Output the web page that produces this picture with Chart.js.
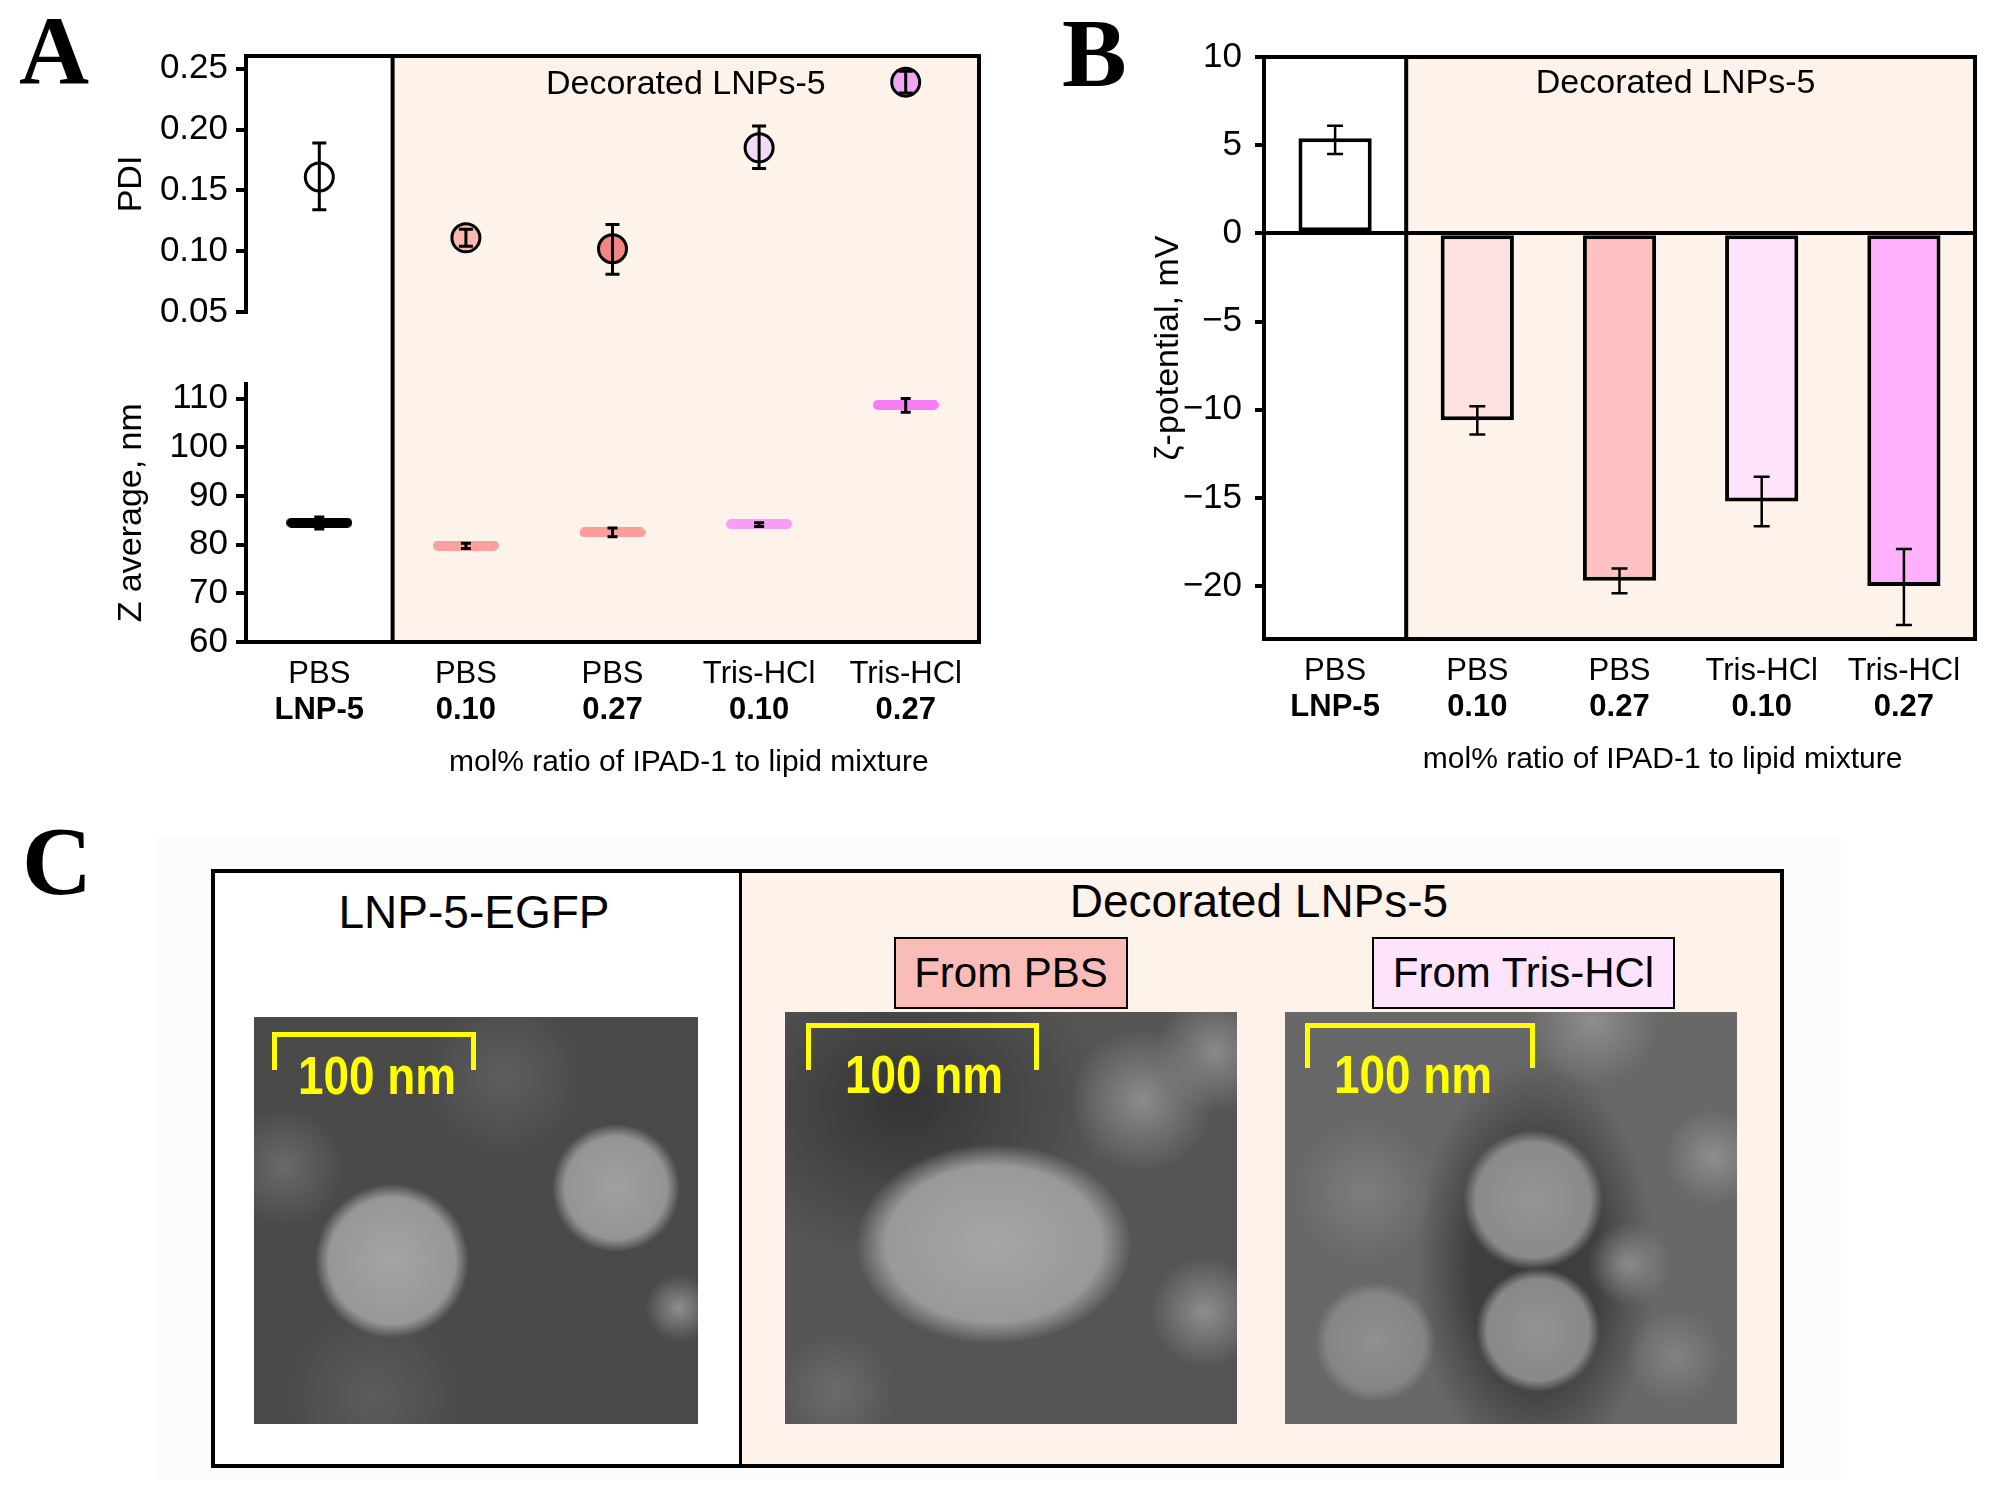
<!DOCTYPE html>
<html lang="en">
<head>
  <meta charset="UTF-8">
  <title>LNP-5 size, PDI and zeta potential</title>
  <script src="https://cdn.jsdelivr.net/npm/chart.js"></script>
  <style>
    body {
      margin: 0;
      width: 2009px;
      height: 1493px;
      position: relative;
      overflow: hidden;
      background: #fff;
      font-family: 'Liberation Sans', Arial, sans-serif;
    }
    .abs { position: absolute; }
    .letter {
      position: absolute;
      font-family: 'Liberation Serif', 'Times New Roman', serif;
      font-weight: bold;
      font-size: 97px;
      line-height: 97px;
      color: #000;
    }
    .ctext {
      position: absolute;
      transform: translate(-50%, -50%);
      white-space: nowrap;
      line-height: 1;
      color: #000;
    }
    .tag {
      position: absolute;
      box-sizing: border-box;
      border: 2px solid #000;
      display: flex;
      align-items: center;
      justify-content: center;
      font-size: 42px;
      line-height: 1;
    }
    .tem { position: absolute; overflow: hidden; }
    .bracket {
      position: absolute;
      box-sizing: border-box;
      border: 5px solid #ffff00;
      border-bottom: none;
    }
    .scale {
      position: absolute;
      transform: translate(-50%, -50%) scaleX(0.85);
      font-weight: bold;
      font-size: 54px;
      line-height: 1;
      color: #ffff00;
      white-space: nowrap;
    }
  </style>
</head>
<body>
  <div class="letter" style="left:19px; top:2px;">A</div>
  <div class="letter" style="left:1062px; top:5px;">B</div>

  <canvas id="chartA" class="abs" width="1000" height="780" style="left:0; top:0; width:1000px; height:780px;"></canvas>
  <canvas id="chartB" class="abs" width="1009" height="780" style="left:1000px; top:0; width:1009px; height:780px;"></canvas>

  <!-- panel C: micrographs, approximated -->
  <div class="abs" style="left:156px; top:837px; width:1685px; height:642px; background:#fcfcfc;"></div>
  <div class="letter" style="left:22px; top:813px;">C</div>
  <div class="abs" style="left:213px; top:871px; width:528px; height:595px; background:#fff;"></div>
  <div class="abs" style="left:741px; top:871px; width:1041px; height:595px; background:#fdf3ea;"></div>
  <div class="abs" style="left:211px; top:869px; width:1573px; height:599px; border:4px solid #000; box-sizing:border-box;"></div>
  <div class="abs" style="left:739px; top:871px; width:3px; height:595px; background:#000;"></div>

  <div class="ctext" style="left:474px; top:912px; font-size:46px;">LNP-5-EGFP</div>
  <div class="ctext" style="left:1259px; top:901px; font-size:46px;">Decorated LNPs-5</div>
  <div class="tag" style="left:894px; top:937px; width:234px; height:72px; background:#f9bcb8;">From PBS</div>
  <div class="tag" style="left:1372px; top:937px; width:303px; height:72px; background:#fde3fb;">From Tris-HCl</div>

  <div class="tem" style="left:254px; top:1017px; width:444px; height:407px;
    background:
      radial-gradient(circle 77px at 138px 244px, #a4a4a4 0, #979797 82%, rgba(80,80,80,0) 100%),
      radial-gradient(circle 64px at 362px 171px, #a0a0a0 0, #949494 80%, rgba(80,80,80,0) 100%),
      radial-gradient(circle 34px at 425px 291px, #8e8e8e 0, rgba(80,80,80,0) 100%),
      radial-gradient(circle 60px at 30px 150px, #6a6a6a 0, rgba(80,80,80,0) 100%),
      radial-gradient(circle 80px at 250px 60px, #5e5e5e 0, rgba(80,80,80,0) 100%),
      radial-gradient(circle 90px at 120px 380px, #5c5c5c 0, rgba(80,80,80,0) 100%),
      #4a4a4a;"></div>
  <div class="tem" style="left:785px; top:1012px; width:452px; height:412px;
    background:
      radial-gradient(ellipse 138px 100px at 209px 232px, #a6a6a6 0, #999 78%, rgba(70,70,70,0) 100%),
      radial-gradient(circle 72px at 357px 88px, #8c8c8c 0, rgba(70,70,70,0) 100%),
      radial-gradient(circle 60px at 430px 40px, #8a8a8a 0, rgba(70,70,70,0) 100%),
      radial-gradient(circle 55px at 420px 300px, #8e8e8e 0, rgba(70,70,70,0) 100%),
      radial-gradient(circle 60px at 50px 380px, #6c6c6c 0, rgba(70,70,70,0) 100%),
      radial-gradient(ellipse 200px 160px at 120px 90px, #343434 0, rgba(60,60,60,0) 100%),
      #555;"></div>
  <div class="tem" style="left:1285px; top:1012px; width:452px; height:412px;
    background:
      radial-gradient(circle 70px at 248px 188px, #959595 0, #8a8a8a 82%, rgba(60,60,60,0) 100%),
      radial-gradient(circle 62px at 253px 318px, #939393 0, #888 82%, rgba(60,60,60,0) 100%),
      radial-gradient(circle 60px at 90px 330px, #909090 0, #858585 80%, rgba(60,60,60,0) 100%),
      radial-gradient(circle 42px at 344px 252px, #8c8c8c 0, rgba(60,60,60,0) 100%),
      radial-gradient(circle 48px at 428px 145px, #8e8e8e 0, rgba(60,60,60,0) 100%),
      radial-gradient(circle 66px at 308px 8px, #8e8e8e 0, rgba(60,60,60,0) 100%),
      radial-gradient(circle 70px at 80px 180px, #7e7e7e 0, rgba(60,60,60,0) 100%),
      radial-gradient(circle 48px at 390px 345px, #828282 0, rgba(60,60,60,0) 100%),
      radial-gradient(ellipse 120px 210px at 250px 255px, #3a3a3a 0, #404040 55%, rgba(90,90,90,0) 100%),
      #686868;"></div>

  <div class="bracket" style="left:272px; top:1032px; width:204px; height:38px;"></div>
  <div class="scale" style="left:377px; top:1075px;">100 nm</div>
  <div class="bracket" style="left:806px; top:1023px; width:233px; height:47px;"></div>
  <div class="scale" style="left:924px; top:1074px;">100 nm</div>
  <div class="bracket" style="left:1305px; top:1023px; width:230px; height:45px;"></div>
  <div class="scale" style="left:1413px; top:1074px;">100 nm</div>

  <script>
    // categories (two label lines under each column)
    const groups = ['PBS', 'PBS', 'PBS', 'Tris-HCl', 'Tris-HCl'];
    const ratios = ['LNP-5', '0.10', '0.27', '0.10', '0.27'];

    // panel A, PDI
    const pdi = [0.161, 0.111, 0.102, 0.185, 0.239];
    const pdiLow = [0.134, 0.104, 0.081, 0.168, 0.230];
    const pdiHigh = [0.189, 0.118, 0.122, 0.203, 0.248];
    const pdiTicks = [0.05, 0.10, 0.15, 0.20, 0.25];

    // panel A, Z average (nm)
    const zAvg = [84.5, 79.8, 82.5, 84.2, 108.7];
    const zLow = [83.2, 79.2, 81.6, 83.7, 107.2];
    const zHigh = [85.7, 80.3, 83.4, 84.5, 110.0];
    const zTicks = [60, 70, 80, 90, 100, 110];

    // panel B, zeta potential (mV)
    const zeta = [5.4, -10.6, -19.7, -15.2, -20.0];
    const zetaLow = [4.5, -11.4, -20.4, -16.6, -22.2];
    const zetaHigh = [6.1, -9.8, -19.0, -13.8, -17.9];
    const zetaTicks = [-20, -15, -10, -5, 0, 5, 10];

    const pdiColors = ['#ffffff', '#f7b9b1', '#f28686', '#f3daf6', '#f0a6f0'];
    const zColors = ['#000000', '#fc9f9f', '#fc9c9c', '#f99cf7', '#f77ef7'];
    const zetaColors = ['#ffffff', '#ffe1e1', '#ffc1c1', '#ffe3fb', '#ffb1fb'];

    const FONT = "'Liberation Sans', Arial, sans-serif";
    Chart.defaults.font.family = FONT;
    Chart.defaults.color = '#000';

    // horizontal rounded bar used as the Z average marker
    function markerBar(color) {
      const c = document.createElement('canvas');
      c.width = 66;
      c.height = 10;
      const g = c.getContext('2d');
      g.strokeStyle = color;
      g.lineWidth = 10;
      g.lineCap = 'round';
      g.beginPath();
      g.moveTo(5, 5);
      g.lineTo(61, 5);
      g.stroke();
      return c;
    }

    const errorBars = {
      id: 'errorBars',
      afterDatasetsDraw(chart) {
        const ctx = chart.ctx;
        chart.data.datasets.forEach((ds, di) => {
          if (!ds.errLow) return;
          const meta = chart.getDatasetMeta(di);
          const ys = chart.scales[meta.yAxisID];
          ctx.save();
          ctx.strokeStyle = '#000';
          ctx.lineWidth = ds.errWidth;
          meta.data.forEach((el, i) => {
            const x = el.x;
            const y1 = ys.getPixelForValue(ds.errLow[i]);
            const y2 = ys.getPixelForValue(ds.errHigh[i]);
            const c = ds.errCap;
            ctx.beginPath();
            ctx.moveTo(x, y1); ctx.lineTo(x, y2);
            ctx.moveTo(x - c, y1); ctx.lineTo(x + c, y1);
            ctx.moveTo(x - c, y2); ctx.lineTo(x + c, y2);
            ctx.stroke();
          });
          ctx.restore();
        });
      }
    };

    // shaded "decorated" region, box lines and the two free texts
    const frame = {
      id: 'frame',
      beforeDraw(chart) {
        const {ctx, chartArea: a, scales} = chart;
        const divX = (scales.x.getPixelForValue(0) + scales.x.getPixelForValue(1)) / 2;
        ctx.save();
        ctx.fillStyle = '#fdf3ea';
        ctx.fillRect(divX, a.top, a.right - divX, a.bottom - a.top);
        ctx.restore();
      },
      beforeDatasetsDraw(chart, args, opts) {
        const {ctx, chartArea: a, scales} = chart;
        const divX = (scales.x.getPixelForValue(0) + scales.x.getPixelForValue(1)) / 2;
        ctx.save();
        ctx.strokeStyle = '#000';
        ctx.lineWidth = 4;
        ctx.beginPath();
        ctx.moveTo(a.left - 2, a.top); ctx.lineTo(a.right + 2, a.top);
        ctx.moveTo(a.right, a.top); ctx.lineTo(a.right, a.bottom + 2);
        ctx.moveTo(divX, a.top); ctx.lineTo(divX, a.bottom);
        ctx.stroke();
        const mid = (divX + a.right) / 2;
        ctx.fillStyle = '#000';
        ctx.textAlign = 'center';
        ctx.textBaseline = 'middle';
        ctx.font = '34px ' + FONT;
        ctx.fillText(opts.label, mid + opts.labelDx, a.top + opts.labelDy);
        ctx.font = '30px ' + FONT;
        ctx.fillText(opts.title, mid + opts.titleDx, a.bottom + opts.titleDy);
        ctx.restore();
      }
    };

    function xAxes() {
      return {
        x: {
          type: 'category',
          offset: true,
          grid: { display: false, drawTicks: false },
          border: { color: '#000', width: 4 },
          ticks: { font: { size: 31 }, padding: 14, maxRotation: 0, autoSkip: false },
          afterFit(s) { s.height = 48; }
        },
        x2: {
          type: 'category',
          labels: ratios,
          position: 'bottom',
          weight: 1,
          offset: true,
          grid: { display: false, drawTicks: false },
          border: { display: false },
          ticks: { font: { size: 31, weight: 'bold' }, padding: 2, maxRotation: 0, autoSkip: false },
          afterFit(s) { s.height = 60; }
        }
      };
    }

    const yTickFont = { size: 35 };
    const yTitleFont = { size: 34 };

    new Chart(document.getElementById('chartA'), {
      type: 'line',
      data: {
        labels: groups,
        datasets: [
          {
            label: 'PDI',
            yAxisID: 'yP',
            data: pdi,
            showLine: false,
            pointRadius: 14,
            pointBorderWidth: 3,
            pointBorderColor: '#000',
            pointBackgroundColor: pdiColors,
            errLow: pdiLow, errHigh: pdiHigh, errCap: 7, errWidth: 3
          },
          {
            label: 'Z average',
            yAxisID: 'yZ',
            data: zAvg,
            showLine: false,
            pointRadius: 5,
            pointStyle: zColors.map(markerBar),
            errLow: zLow, errHigh: zHigh, errCap: 5, errWidth: 3
          }
        ]
      },
      options: {
        responsive: false,
        animation: false,
        events: [],
        layout: { autoPadding: false, padding: { left: 96, right: 21, top: 56, bottom: 30 } },
        plugins: {
          legend: { display: false },
          tooltip: { enabled: false },
          frame: { label: 'Decorated LNPs-5', labelDx: 0, labelDy: 29, title: 'mol% ratio of IPAD-1 to lipid mixture', titleDx: 3, titleDy: 121 }
        },
        scales: Object.assign(xAxes(), {
          yZ: {
            type: 'linear',
            position: 'left',
            stack: 'a',
            stackWeight: 258.5,
            min: 60,
            max: 113.1,
            afterBuildTicks(s) { s.ticks = zTicks.map(v => ({ value: v })); },
            grid: { drawOnChartArea: false, color: '#000', lineWidth: 4, tickLength: 10 },
            border: { color: '#000', width: 4 },
            ticks: { font: yTickFont, padding: 8, autoSkip: false },
            title: { display: true, text: 'Z average, nm', font: yTitleFont, padding: { top: 15 } },
            afterFit(s) { s.width = 150; }
          },
          yGap: {
            type: 'linear',
            position: 'left',
            stack: 'a',
            stackWeight: 71.5,
            grid: { display: false, drawTicks: false },
            border: { display: false },
            ticks: { display: false },
            afterFit(s) { s.width = 150; }
          },
          yP: {
            type: 'linear',
            position: 'left',
            stack: 'a',
            stackWeight: 256,
            min: 0.05,
            max: 0.2605,
            afterBuildTicks(s) { s.ticks = pdiTicks.map(v => ({ value: v })); },
            grid: { drawOnChartArea: false, color: '#000', lineWidth: 4, tickLength: 10 },
            border: { color: '#000', width: 4 },
            ticks: { font: yTickFont, padding: 8, autoSkip: false, callback: v => v.toFixed(2) },
            title: { display: true, text: 'PDI', font: yTitleFont, padding: { top: 15 } },
            afterFit(s) { s.width = 150; }
          }
        })
      },
      plugins: [frame, errorBars]
    });

    new Chart(document.getElementById('chartB'), {
      type: 'bar',
      data: {
        labels: groups,
        datasets: [{
          label: 'zeta potential',
          data: zeta,
          backgroundColor: zetaColors,
          borderColor: '#000',
          borderWidth: 4,
          borderSkipped: false,
          categoryPercentage: 1,
          barPercentage: 0.515,
          errLow: zetaLow, errHigh: zetaHigh, errCap: 8, errWidth: 2.5
        }]
      },
      options: {
        responsive: false,
        animation: false,
        events: [],
        layout: { autoPadding: false, padding: { left: 124, right: 34, top: 57, bottom: 33 } },
        plugins: {
          legend: { display: false },
          tooltip: { enabled: false },
          frame: { label: 'Decorated LNPs-5', labelDx: -15, labelDy: 27, title: 'mol% ratio of IPAD-1 to lipid mixture', titleDx: -28, titleDy: 121 }
        },
        scales: Object.assign(xAxes(), {
          y: {
            type: 'linear',
            position: 'left',
            min: -23,
            max: 10,
            afterBuildTicks(s) { s.ticks = zetaTicks.map(v => ({ value: v })); },
            grid: {
              drawOnChartArea: true,
              color: c => (c.tick && c.tick.value === 0 ? '#000' : 'rgba(0,0,0,0)'),
              tickColor: '#000',
              lineWidth: 4,
              tickLength: 9
            },
            border: { color: '#000', width: 4 },
            ticks: { font: yTickFont, padding: 13, autoSkip: false, callback: v => (v < 0 ? '\u2212' + Math.abs(v) : String(v)) },
            title: { display: true, text: 'ζ-potential, mV', font: yTitleFont, padding: { top: 24 } },
            afterFit(s) { s.width = 140; }
          }
        })
      },
      plugins: [frame, errorBars]
    });
  </script>
</body>
</html>
